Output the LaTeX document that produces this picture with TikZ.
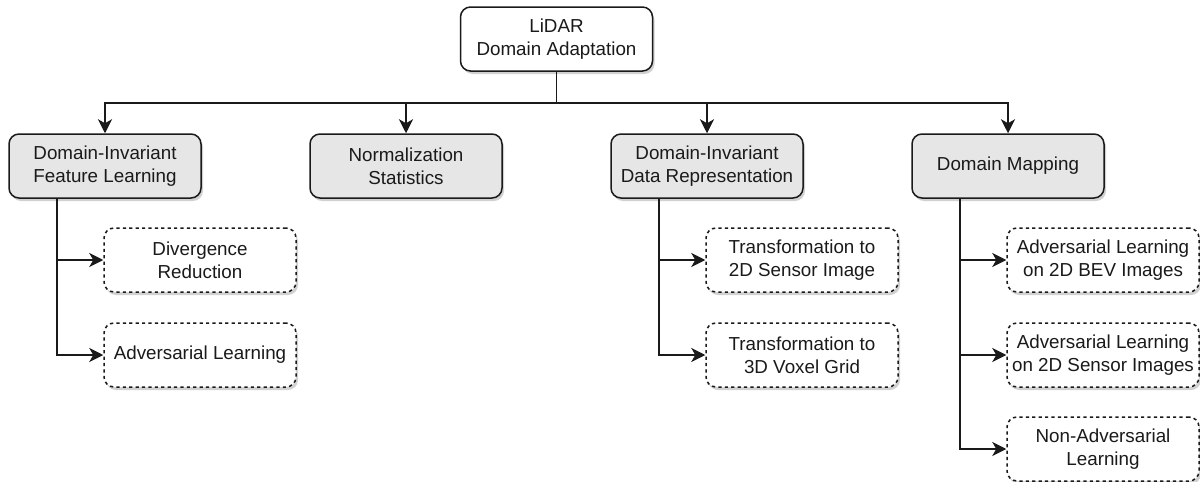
\documentclass[tikz,border=0pt]{standalone}
\usepackage{fontspec}
\setmainfont{Liberation Sans}
\usetikzlibrary{arrows.meta,shadows}
\definecolor{boxgray}{HTML}{E6E6E6}
\definecolor{ink}{HTML}{1A1A1A}
\begin{document}
\begin{tikzpicture}[x=0.5pt,y=-0.5pt,
  every node/.style={font=\fontsize{9.4pt}{11.5pt}\selectfont, text=ink, align=center},
  basebox/.style={draw=ink, line width=0.75pt, rounded corners=5pt,
    minimum width=96pt, minimum height=32pt, inner sep=0pt,
    drop shadow={shadow xshift=1pt, shadow yshift=-1.5pt, opacity=0.18, fill=black}},
  rootbox/.style={basebox, fill=white},
  catbox/.style={basebox, fill=boxgray},
  leafbox/.style={basebox, fill=white, dash pattern=on 1.6pt off 1.6pt},
  conn/.style={draw=ink, line width=0.75pt, -{Stealth[length=7pt,width=7pt,inset=2pt]}}
]
\useasboundingbox (0,0) rectangle (1200,482);

\node[rootbox] (root) at (556.5,39) {LiDAR\\Domain Adaptation};

\node[catbox] (dif) at (105,166) {Domain-Invariant\\Feature Learning};
\node[catbox] (ns)  at (406,166) {Normalization\\Statistics};
\node[catbox] (didr) at (707,166) {Domain-Invariant\\Data Representation};
\node[catbox] (dm)  at (1008,166) {Domain Mapping};

\node[leafbox] (dr)  at (200,260) {Divergence\\Reduction};
\node[leafbox] (al)  at (200,355) {Adversarial Learning};
\node[leafbox] (t2d) at (802,260) {Transformation to\\2D Sensor Image};
\node[leafbox] (t3d) at (802,355) {Transformation to\\3D Voxel Grid};
\node[leafbox] (abev) at (1103,260) {Adversarial Learning\\on 2D BEV Images};
\node[leafbox] (asen) at (1103,355) {Adversarial Learning\\on 2D Sensor Images};
\node[leafbox] (nal)  at (1103,449) {Non-Adversarial\\Learning};

\foreach \c in {dif,ns,didr,dm}
  \draw[conn] (root.south) -- ++(0,31) -| (\c.north);

\foreach \p/\c in {dif/dr,dif/al,didr/t2d,didr/t3d,dm/abev,dm/asen,dm/nal}
  \draw[conn] ([xshift=-24pt]\p.south) |- (\c.west);
\end{tikzpicture}
\end{document}
